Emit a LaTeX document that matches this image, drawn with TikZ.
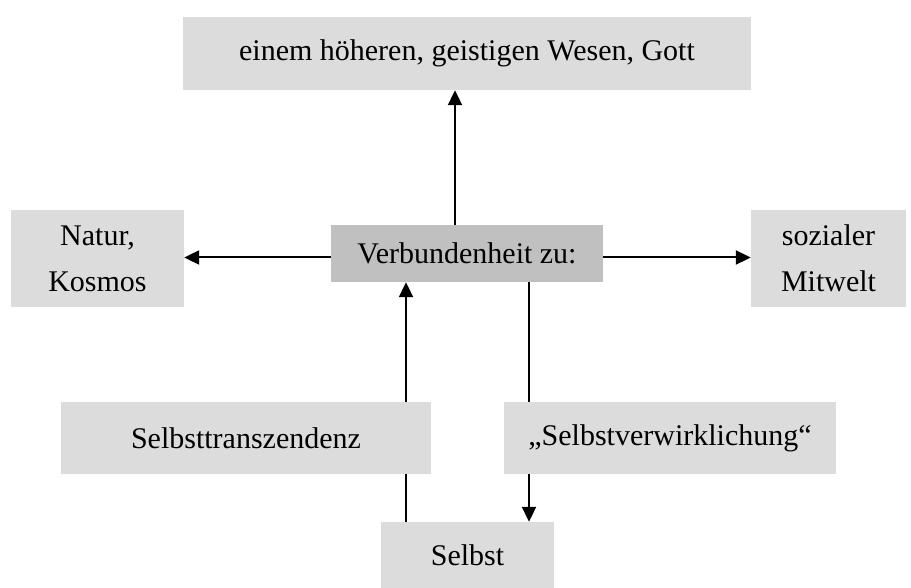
\documentclass[tikz,border=0pt]{standalone}
\usepackage{fontspec}
\setmainfont{Liberation Serif}
\usetikzlibrary{arrows.meta}
\pgfdeclarelayer{bg}
\pgfsetlayers{bg,main}
\definecolor{boxgray}{RGB}{220,220,220}
\definecolor{centergray}{RGB}{192,192,192}
\begin{document}
\begin{tikzpicture}[x=1pt,y=-1pt,
  box/.style={fill=boxgray, inner sep=0pt, align=center,
    font=\fontsize{30}{46}\selectfont},
  centerbox/.style={box, fill=centergray},
  arr/.style={line width=2pt, -{Triangle[length=15pt,width=14pt]}}]
\useasboundingbox (0,0) rectangle (911,588);
\node[box, minimum width=568pt, minimum height=73pt] (top) at (467,53.5) {einem höheren, geistigen Wesen, Gott};
\node[centerbox, minimum width=272pt, minimum height=57pt] (mid) at (467,253.5) {Verbundenheit zu:};
\node[box, minimum width=173pt, minimum height=97pt, text depth=0pt] (natur) at (97.5,258.5) {Natur,\\Kosmos};
\node[box, minimum width=155pt, minimum height=97pt, text depth=0pt] (sozial) at (828.5,258.5) {sozialer\\Mitwelt};
\node[box, minimum width=370pt, minimum height=72pt] (trans) at (246,438) {Selbsttranszendenz};
\node[box, minimum width=332pt, minimum height=72pt] (verw) at (670,438) {„Selbstverwirklichung“};
\node[box, minimum width=173pt, minimum height=66pt] (selbst) at (467.5,555) {Selbst};
\coordinate (tx) at (455,0);
\coordinate (ux) at (406,0);
\coordinate (dx) at (529,0);
\coordinate (hy) at (0,257.5);
\begin{pgfonlayer}{bg}
\draw[arr] (mid.north -| tx) -- (top.south -| tx);
\draw[arr] (mid.west |- hy) -- (natur.east |- hy);
\draw[arr] (mid.east |- hy) -- (sozial.west |- hy);
\draw[arr] (selbst.north -| ux) -- (mid.south -| ux);
\draw[arr] (mid.south -| dx) -- (selbst.north -| dx);
\end{pgfonlayer}
\end{tikzpicture}
\end{document}
